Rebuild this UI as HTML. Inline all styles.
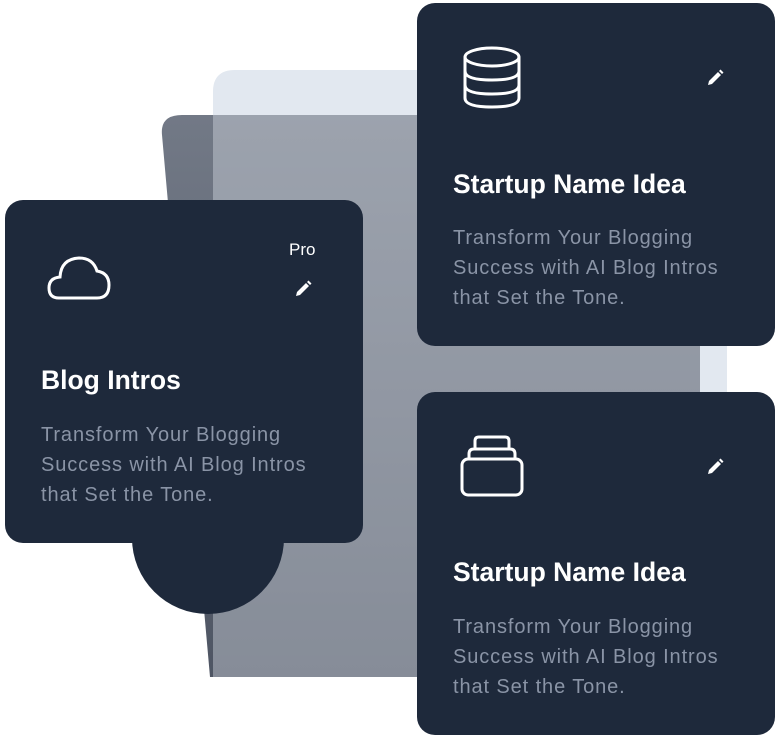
<!DOCTYPE html>
<html><head><meta charset="utf-8"><style>
body{margin:0;width:780px;height:741px;background:#fff;position:relative;overflow:hidden;font-family:"Liberation Sans",sans-serif}
.card{position:absolute;background:#1e293b;border-radius:18px;width:358px;height:343px}
.t{position:absolute;color:#fff;font-weight:bold;font-size:26.5px;white-space:nowrap}
.b{position:absolute;color:#8a94a6;font-size:20px;line-height:30px;letter-spacing:0.9px;white-space:nowrap}
svg{position:absolute}
</style></head><body>
<svg width="780" height="741" style="left:0;top:0">
<defs>
<linearGradient id="g" x1="0" y1="0" x2="0" y2="1"><stop offset="0" stop-color="#727986"/><stop offset="1" stop-color="#4e5563"/></linearGradient>
</defs>
<path d="M162 135 Q160 115 182 115 L700 115 L706 677 L210 677 Z" fill="url(#g)"/>
<path d="M213 92 Q213 70 235 70 L705 70 Q727 70 727 92 L727 677 L213 677 Z" fill="#e2e8f0" opacity="0.38"/>
<path d="M213 115 L213 92 Q213 70 235 70 L705 70 Q727 70 727 92 L727 115 Z" fill="#e2e8f0"/>
<rect x="700" y="115" width="27" height="280" fill="#e2e8f0"/>
<circle cx="208" cy="538" r="76" fill="#1e293b"/>
</svg>
<div class="card" style="left:5px;top:200px">
<svg width="70" height="60" style="left:40px;top:45px" viewBox="0 0 70 60"><path d="M14 53 Q4 53 4 43 Q4 33 15 32 Q16 14 34 13 Q48 13 52 26 Q64 28 64 40 Q64 53 52 53 Z" fill="none" stroke="#fff" stroke-width="3"/></svg>
<div style="position:absolute;left:284px;top:40px;color:#fff;font-size:17px">Pro</div>
<svg width="20" height="20" style="left:288px;top:79px" viewBox="0 0 20 20"><path d="M3 17 L4 13 L13 4 L16 7 L7 16 Z M14 3 L15.5 1.5 L18.5 4.5 L17 6 Z" fill="#fff"/></svg>
<div class="t" style="left:36px;top:165px">Blog Intros</div>
<div class="b" style="left:36px;top:220px">Transform Your Blogging<br>Success with AI Blog Intros<br>that Set the Tone.</div>
</div>
<div class="card" style="left:417px;top:3px">
<svg width="62" height="64" style="left:44px;top:43px" viewBox="0 0 62 64"><ellipse cx="31" cy="11" rx="27" ry="9" fill="none" stroke="#fff" stroke-width="3"/><path d="M4 11 V52 Q4 61 31 61 Q58 61 58 52 V11 M4 25 Q4 34 31 34 Q58 34 58 25 M4 39 Q4 48 31 48 Q58 48 58 39" fill="none" stroke="#fff" stroke-width="3"/></svg>
<svg width="20" height="20" style="left:288px;top:65px" viewBox="0 0 20 20"><path d="M3 17 L4 13 L13 4 L16 7 L7 16 Z M14 3 L15.5 1.5 L18.5 4.5 L17 6 Z" fill="#fff"/></svg>
<div class="t" style="left:36px;top:166px">Startup Name Idea</div>
<div class="b" style="left:36px;top:220px">Transform Your Blogging<br>Success with AI Blog Intros<br>that Set the Tone.</div>
</div>
<div class="card" style="left:417px;top:392px">
<svg width="66" height="64" style="left:42px;top:42px" viewBox="0 0 66 64"><rect x="3" y="25" width="60" height="36" rx="6" fill="none" stroke="#fff" stroke-width="3"/><path d="M10 25 V20 Q10 15 15 15 H51 Q56 15 56 20 V25 M16 15 V7 Q16 3 20 3 H46 Q50 3 50 7 V15" fill="none" stroke="#fff" stroke-width="3"/></svg>
<svg width="20" height="20" style="left:288px;top:65px" viewBox="0 0 20 20"><path d="M3 17 L4 13 L13 4 L16 7 L7 16 Z M14 3 L15.5 1.5 L18.5 4.5 L17 6 Z" fill="#fff"/></svg>
<div class="t" style="left:36px;top:165px">Startup Name Idea</div>
<div class="b" style="left:36px;top:220px">Transform Your Blogging<br>Success with AI Blog Intros<br>that Set the Tone.</div>
</div>
</body></html>
